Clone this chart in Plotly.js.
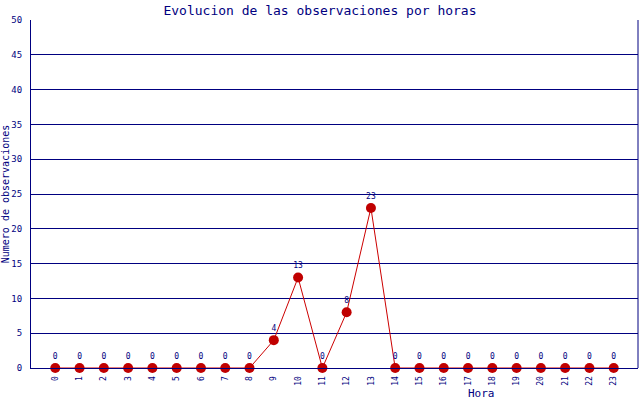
<!DOCTYPE html>
<html>
<head>
<meta charset="utf-8">
<script src="https://cdn.plot.ly/plotly-3.0.1.min.js"></script>
<style>html,body{margin:0;padding:0;background:#fff;} #chart{width:640px;height:400px;}</style>
</head>
<body>
<div id="chart"></div>
<script>
const hours = ["0","1","2","3","4","5","6","7","8","9","10","11","12","13","14","15","16","17","18","19","20","21","22","23"];
const observations = [0,0,0,0,0,0,0,0,0,4,13,0,8,23,0,0,0,0,0,0,0,0,0,0];
const yTicks = [0,5,10,15,20,25,30,35,40,45,50];

const navy = "#000080";
const mono = "DejaVu Sans Mono, Liberation Mono, monospace";

const trace = {
  x: hours.map((h, i) => i),
  y: observations,
  type: "scatter",
  mode: "lines+markers+text",
  text: observations.map(String),
  textposition: "top center",
  textfont: {family: mono, size: 8, color: navy},
  line: {color: "#cc0000", width: 1},
  marker: {color: "#c00000", size: 10, symbol: "circle"},
  cliponaxis: false,
  hoverinfo: "none"
};

const layout = {
  width: 640, height: 400,
  margin: {l: 31, r: 2, t: 20, b: 32, pad: 0},
  paper_bgcolor: "#ffffff",
  plot_bgcolor: "#ffffff",
  showlegend: false,
  title: {text: "Evolucion de las observaciones por horas", font: {family: mono, size: 13, color: navy}, x: 0.5, xanchor: "center", y: 0.985, yanchor: "top"},
  xaxis: {
    range: [-1, 24],
    tickvals: hours.map((h, i) => i),
    ticktext: hours,
    tickangle: -90,
    tickfont: {family: mono, size: 8, color: navy},
    ticklabelstandoff: 4,
    showgrid: false,
    zeroline: false,
    showline: true, linecolor: navy, linewidth: 1,
    ticks: "", mirror: false, fixedrange: true
  },
  yaxis: {
    range: [0, 50],
    tickvals: yTicks,
    tickfont: {family: mono, size: 9, color: navy},
    showgrid: true, gridcolor: navy, gridwidth: 1,
    zeroline: false,
    showline: true, linecolor: navy, linewidth: 1,
    ticks: "", ticklabelstandoff: 6,
    title: {text: "Numero de observaciones", font: {family: mono, size: 10, color: navy}, standoff: 4},
    fixedrange: true
  },
  shapes: [
    {type: "line", xref: "paper", yref: "paper", x0: 1, x1: 1, y0: 0, y1: 1, line: {color: navy, width: 1}}
  ],
  annotations: [
    {text: "Hora", xref: "paper", yref: "paper", x: 0.742, y: -0.072, xanchor: "center", yanchor: "middle", showarrow: false, font: {family: mono, size: 11, color: navy}}
  ]
};

Plotly.newPlot("chart", [trace], layout, {displayModeBar: false, staticPlot: true});
</script>
</body>
</html>
